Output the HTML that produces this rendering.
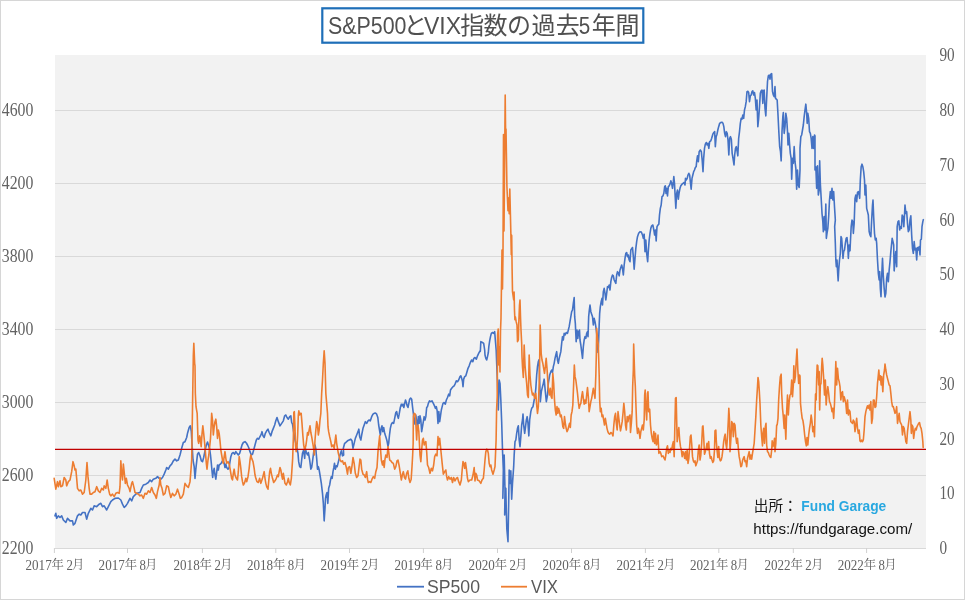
<!DOCTYPE html>
<html lang="ja"><head><meta charset="utf-8"><title>S&amp;P500とVIX指数の過去5年間</title>
<style>
html,body{margin:0;padding:0;background:#fff;}
body{width:965px;height:600px;overflow:hidden;}
svg{display:block;}
.ax{font-family:"Liberation Serif","Noto Serif CJK JP",serif;fill:#626262;}
.lg{font-family:"Liberation Sans","Noto Sans CJK JP",sans-serif;fill:#595959;}
</style></head><body>
<svg width="965" height="600" viewBox="0 0 965 600">
<rect x="0" y="0" width="965" height="600" fill="#fff"/>
<rect x="0.5" y="0.5" width="964" height="599" fill="none" stroke="#d6d6d6" stroke-width="1"/>
<rect x="55" y="55" width="871" height="493" fill="#f2f2f2"/>
<line x1="55" x2="926" y1="110.5" y2="110.5" stroke="#d9d9d9" stroke-width="1"/>
<line x1="55" x2="926" y1="183.5" y2="183.5" stroke="#d9d9d9" stroke-width="1"/>
<line x1="55" x2="926" y1="256.5" y2="256.5" stroke="#d9d9d9" stroke-width="1"/>
<line x1="55" x2="926" y1="329.5" y2="329.5" stroke="#d9d9d9" stroke-width="1"/>
<line x1="55" x2="926" y1="402.5" y2="402.5" stroke="#d9d9d9" stroke-width="1"/>
<line x1="55" x2="926" y1="475.5" y2="475.5" stroke="#d9d9d9" stroke-width="1"/>
<line x1="55" x2="926" y1="548.5" y2="548.5" stroke="#d9d9d9" stroke-width="1"/>
<line x1="54.4" x2="54.4" y1="548" y2="553" stroke="#d0d0d0" stroke-width="1"/>
<line x1="127.5" x2="127.5" y1="548" y2="553" stroke="#d0d0d0" stroke-width="1"/>
<line x1="202.4" x2="202.4" y1="548" y2="553" stroke="#d0d0d0" stroke-width="1"/>
<line x1="275.8" x2="275.8" y1="548" y2="553" stroke="#d0d0d0" stroke-width="1"/>
<line x1="349.5" x2="349.5" y1="548" y2="553" stroke="#d0d0d0" stroke-width="1"/>
<line x1="423.4" x2="423.4" y1="548" y2="553" stroke="#d0d0d0" stroke-width="1"/>
<line x1="497.5" x2="497.5" y1="548" y2="553" stroke="#d0d0d0" stroke-width="1"/>
<line x1="571.5" x2="571.5" y1="548" y2="553" stroke="#d0d0d0" stroke-width="1"/>
<line x1="645.4" x2="645.4" y1="548" y2="553" stroke="#d0d0d0" stroke-width="1"/>
<line x1="718.8" x2="718.8" y1="548" y2="553" stroke="#d0d0d0" stroke-width="1"/>
<line x1="793.3" x2="793.3" y1="548" y2="553" stroke="#d0d0d0" stroke-width="1"/>
<line x1="866.6" x2="866.6" y1="548" y2="553" stroke="#d0d0d0" stroke-width="1"/>
<rect x="322.3" y="8.3" width="321" height="34.4" fill="#fff" stroke="#1f6fb8" stroke-width="2.2"/>
<text y="34" class="lg" font-size="24" style="fill:#505050"><tspan x="328" textLength="78.5" lengthAdjust="spacingAndGlyphs">S&amp;P500</tspan><tspan x="403.5">と</tspan><tspan x="424" textLength="37" lengthAdjust="spacingAndGlyphs">VIX</tspan><tspan x="460.2">指</tspan><tspan x="483.6">数</tspan><tspan x="507">の</tspan><tspan x="531.5">過</tspan><tspan x="555.8">去</tspan><tspan x="578.8" textLength="11.5" lengthAdjust="spacingAndGlyphs">5</tspan><tspan x="591.8">年</tspan><tspan x="615.5">間</tspan></text>
<text x="1.8" y="116.2" class="ax" font-size="19.2" textLength="31.6" lengthAdjust="spacingAndGlyphs">4600</text>
<text x="1.8" y="189.2" class="ax" font-size="19.2" textLength="31.6" lengthAdjust="spacingAndGlyphs">4200</text>
<text x="1.8" y="262.2" class="ax" font-size="19.2" textLength="31.6" lengthAdjust="spacingAndGlyphs">3800</text>
<text x="1.8" y="335.2" class="ax" font-size="19.2" textLength="31.6" lengthAdjust="spacingAndGlyphs">3400</text>
<text x="1.8" y="408.2" class="ax" font-size="19.2" textLength="31.6" lengthAdjust="spacingAndGlyphs">3000</text>
<text x="1.8" y="481.2" class="ax" font-size="19.2" textLength="31.6" lengthAdjust="spacingAndGlyphs">2600</text>
<text x="1.8" y="554.2" class="ax" font-size="19.2" textLength="31.6" lengthAdjust="spacingAndGlyphs">2200</text>
<text x="939.4" y="61.2" class="ax" font-size="19.2" textLength="15.2" lengthAdjust="spacingAndGlyphs">90</text>
<text x="939.4" y="116.2" class="ax" font-size="19.2" textLength="15.2" lengthAdjust="spacingAndGlyphs">80</text>
<text x="939.4" y="171.2" class="ax" font-size="19.2" textLength="15.2" lengthAdjust="spacingAndGlyphs">70</text>
<text x="939.4" y="225.7" class="ax" font-size="19.2" textLength="15.2" lengthAdjust="spacingAndGlyphs">60</text>
<text x="939.4" y="280.2" class="ax" font-size="19.2" textLength="15.2" lengthAdjust="spacingAndGlyphs">50</text>
<text x="939.4" y="335.2" class="ax" font-size="19.2" textLength="15.2" lengthAdjust="spacingAndGlyphs">40</text>
<text x="939.4" y="390.2" class="ax" font-size="19.2" textLength="15.2" lengthAdjust="spacingAndGlyphs">30</text>
<text x="939.4" y="444.7" class="ax" font-size="19.2" textLength="15.2" lengthAdjust="spacingAndGlyphs">20</text>
<text x="939.4" y="499.2" class="ax" font-size="19.2" textLength="15.2" lengthAdjust="spacingAndGlyphs">10</text>
<text x="939.4" y="554.2" class="ax" font-size="19.2" textLength="7.6" lengthAdjust="spacingAndGlyphs">0</text>
<text y="570" class="ax"><tspan x="25.5" font-size="15" textLength="26.2" lengthAdjust="spacingAndGlyphs">2017</tspan><tspan x="51.6" y="569.2" font-size="12.4">年</tspan><tspan x="66.4" y="570" font-size="15" textLength="6.4" lengthAdjust="spacingAndGlyphs">2</tspan><tspan x="72.0" y="569.2" font-size="12.4">月</tspan></text>
<text y="570" class="ax"><tspan x="98.6" font-size="15" textLength="26.2" lengthAdjust="spacingAndGlyphs">2017</tspan><tspan x="124.7" y="569.2" font-size="12.4">年</tspan><tspan x="139.5" y="570" font-size="15" textLength="6.4" lengthAdjust="spacingAndGlyphs">8</tspan><tspan x="145.1" y="569.2" font-size="12.4">月</tspan></text>
<text y="570" class="ax"><tspan x="173.5" font-size="15" textLength="26.2" lengthAdjust="spacingAndGlyphs">2018</tspan><tspan x="199.6" y="569.2" font-size="12.4">年</tspan><tspan x="214.4" y="570" font-size="15" textLength="6.4" lengthAdjust="spacingAndGlyphs">2</tspan><tspan x="220.0" y="569.2" font-size="12.4">月</tspan></text>
<text y="570" class="ax"><tspan x="246.9" font-size="15" textLength="26.2" lengthAdjust="spacingAndGlyphs">2018</tspan><tspan x="273.0" y="569.2" font-size="12.4">年</tspan><tspan x="287.8" y="570" font-size="15" textLength="6.4" lengthAdjust="spacingAndGlyphs">8</tspan><tspan x="293.4" y="569.2" font-size="12.4">月</tspan></text>
<text y="570" class="ax"><tspan x="320.6" font-size="15" textLength="26.2" lengthAdjust="spacingAndGlyphs">2019</tspan><tspan x="346.7" y="569.2" font-size="12.4">年</tspan><tspan x="361.5" y="570" font-size="15" textLength="6.4" lengthAdjust="spacingAndGlyphs">2</tspan><tspan x="367.1" y="569.2" font-size="12.4">月</tspan></text>
<text y="570" class="ax"><tspan x="394.5" font-size="15" textLength="26.2" lengthAdjust="spacingAndGlyphs">2019</tspan><tspan x="420.6" y="569.2" font-size="12.4">年</tspan><tspan x="435.4" y="570" font-size="15" textLength="6.4" lengthAdjust="spacingAndGlyphs">8</tspan><tspan x="441.0" y="569.2" font-size="12.4">月</tspan></text>
<text y="570" class="ax"><tspan x="468.6" font-size="15" textLength="26.2" lengthAdjust="spacingAndGlyphs">2020</tspan><tspan x="494.7" y="569.2" font-size="12.4">年</tspan><tspan x="509.5" y="570" font-size="15" textLength="6.4" lengthAdjust="spacingAndGlyphs">2</tspan><tspan x="515.1" y="569.2" font-size="12.4">月</tspan></text>
<text y="570" class="ax"><tspan x="542.6" font-size="15" textLength="26.2" lengthAdjust="spacingAndGlyphs">2020</tspan><tspan x="568.7" y="569.2" font-size="12.4">年</tspan><tspan x="583.5" y="570" font-size="15" textLength="6.4" lengthAdjust="spacingAndGlyphs">8</tspan><tspan x="589.1" y="569.2" font-size="12.4">月</tspan></text>
<text y="570" class="ax"><tspan x="616.5" font-size="15" textLength="26.2" lengthAdjust="spacingAndGlyphs">2021</tspan><tspan x="642.6" y="569.2" font-size="12.4">年</tspan><tspan x="657.4" y="570" font-size="15" textLength="6.4" lengthAdjust="spacingAndGlyphs">2</tspan><tspan x="663.0" y="569.2" font-size="12.4">月</tspan></text>
<text y="570" class="ax"><tspan x="689.9" font-size="15" textLength="26.2" lengthAdjust="spacingAndGlyphs">2021</tspan><tspan x="716.0" y="569.2" font-size="12.4">年</tspan><tspan x="730.8" y="570" font-size="15" textLength="6.4" lengthAdjust="spacingAndGlyphs">8</tspan><tspan x="736.4" y="569.2" font-size="12.4">月</tspan></text>
<text y="570" class="ax"><tspan x="764.4" font-size="15" textLength="26.2" lengthAdjust="spacingAndGlyphs">2022</tspan><tspan x="790.5" y="569.2" font-size="12.4">年</tspan><tspan x="805.3" y="570" font-size="15" textLength="6.4" lengthAdjust="spacingAndGlyphs">2</tspan><tspan x="810.9" y="569.2" font-size="12.4">月</tspan></text>
<text y="570" class="ax"><tspan x="837.7" font-size="15" textLength="26.2" lengthAdjust="spacingAndGlyphs">2022</tspan><tspan x="863.8" y="569.2" font-size="12.4">年</tspan><tspan x="878.6" y="570" font-size="15" textLength="6.4" lengthAdjust="spacingAndGlyphs">8</tspan><tspan x="884.2" y="569.2" font-size="12.4">月</tspan></text>
<polyline fill="none" stroke="#4472c4" stroke-width="1.6" stroke-linejoin="round" stroke-linecap="round" points="55,515.83 55.83,513.33 56.67,518.33 58.33,515.83 60,517.5 61.67,515.83 63.33,520 65.83,522.5 67.5,518.33 70,520.83 72.5,520.83 73.33,525 75,523.33 77.5,515.83 79.17,514.17 80.83,515 82.5,512.5 85,512.5 86.67,519.17 88.33,513.33 90.83,508.33 92.5,510 94.17,505.83 96.67,506.67 99.17,504.17 100.83,503.33 102.5,506.67 104.17,505.83 106.67,510 108.33,506.67 110.83,501.67 112.5,500 115,498.33 118.33,498 120.83,500 122.5,504.17 124.17,507.5 125.83,505.83 127.5,503.33 130,498.33 131.67,500.83 133.33,496.67 135,495 136.67,493.33 140,492.5 141.67,488.33 143.33,485 145.83,484.17 148.33,482.5 150,480 151.67,481.67 153.33,479.17 155.83,478.33 157.5,476.67 159.17,478.33 160.83,479.17 162.5,477.5 164.17,474.17 165.83,470 166.67,467.5 168.33,469.17 170,465.83 171.67,464.17 173.33,460.83 175,459.17 176.67,460.83 178.33,460 180,455 181.67,448.33 183.33,442.5 185,441.67 186.67,437.5 187.5,433.33 189.17,427.5 190.33,425.83 191.33,431.67 192,443.33 193,460 194.17,466.67 195,478.33 195.83,469.17 196.67,461.67 197.5,454.17 198.67,452.5 200,455.83 201.33,460.83 202.5,461.67 203.67,457.5 205,450.83 206.33,445 207.5,442 208.67,445.83 209.67,449.17 210.5,455 211.33,463.33 212,470.83 212.67,477.5 213.33,471.67 214.17,468.33 215,475 215.83,479.17 216.67,472.5 217.5,465 218.33,470 219.17,465 220.33,464.17 221.67,462.5 223,460 224.17,463.33 225,467.5 225.83,464.17 226.67,467.5 228,469.17 229.17,467.5 230,461.67 230.83,456.67 232,453.33 233.33,452.5 234.67,454.17 235.83,451.67 237,453.33 238.33,455 239.67,453.33 240.83,449.17 242,445 243.33,442.5 245,441.67 246.33,443 247.5,445 248.67,447.5 250,451.67 251.33,455 252.5,454.17 253.67,450 255,445 256.33,440 257.5,438.33 258.67,439.17 260,436.67 261.33,434.17 262,431.67 263,435.83 264.17,437.5 265.33,433.33 266.67,430.83 268,429.17 269.17,432.5 270.83,435.83 272,431.67 273.33,428.33 274.67,425 275.83,420.83 277,417.5 278.33,421.67 280,425.83 281.67,423.33 283.33,420.83 284.67,415.83 285.83,415 287,417.5 288.33,419.17 289.67,416.67 290.83,415.83 291.67,422.5 292.5,424.17 293.33,430 295,440 296.67,446.67 298,453.33 298.67,461.67 299.67,466.67 300.83,467.5 301.67,460 302.5,453.33 303.67,450 304.67,458.33 305.33,448.33 306.33,452.5 307.5,455 308.33,452.5 309.67,460 310.83,469.17 311.67,467.5 312.5,461.67 313.33,455 314.17,448.33 315,445 315.83,449.17 316.67,458.33 317.5,469.17 318.33,466.67 319.17,470 320,475 321.33,483.33 322.5,493.33 323.33,503.33 324.17,520.83 325,508.33 325.5,498.33 326.17,495 327,492.5 327.83,503.33 328.67,488.33 329.67,485 330.5,480 331.33,476.67 332.17,478.33 333,471.67 333.83,467.5 334.5,463.33 335.33,469.17 336.33,465.83 337.17,466.67 338,463.33 338.83,460 340,455 341.33,450.83 342.5,455.83 343.67,455 343.33,448.33 344.67,443.33 345.83,442.5 347.5,440.83 349.17,440 350.83,439.17 352,440.83 353,448.33 354.17,443.33 355.33,438.33 356.67,435 358,431.67 358.83,429.17 359.67,436.67 360.83,440 361.67,435 363,428.33 364.17,425 365.33,421.67 366.67,423.33 368,420.83 369.17,420 370.33,420.83 371.67,416.67 373,414.17 374.17,413.33 375.5,413 376.67,414.17 377.83,417.5 378.67,425 379.5,430 380.33,435 381.17,428.33 382,425.83 382.83,431.67 383.67,427.5 384.67,433.33 385.83,436.67 387,440.83 388,446.33 388.67,443.33 389.5,435 390.33,428.33 391.33,424.17 392.5,422.5 393.67,423.33 394.67,418.33 395.83,412.5 396.67,411.67 397.5,415.83 398.33,418.33 399.17,414.17 400.33,407.5 401.33,404.17 402.17,405.83 403,404.17 403.83,407.5 404.67,403.33 405.5,400 406.33,402.5 407.17,405.83 408,407.5 408.83,403.33 409.67,399.17 410.67,398 411.67,399.17 412.5,406.67 413.33,413.33 414.17,420 415,424.17 415.83,415 416.67,421.67 417.5,428.33 418.33,416.67 419.17,423.33 420,415.83 420.83,420 421.67,431.67 422.5,426.67 423.33,421.67 424.17,416.67 425,420 425.83,416.67 426.67,407.5 427.5,406.67 428.33,403.33 429.5,400.83 430.83,401.67 432,400.83 433.33,403.33 434.5,405.83 435.5,408.33 436.33,406.67 437.17,410.83 438,423.33 438.83,411.67 439.67,421.67 440.5,415.83 441.33,410 442.17,406.67 443,403.33 444.17,402.5 445.33,404.17 446.33,400 447.5,397.5 448.67,394.17 449.67,395.83 450.5,390 451.67,388.33 453,386.67 454.17,385.83 455.33,383.33 456.33,380.83 457.5,381.67 458.67,380 460,376.67 460.83,375.83 461.67,378.33 462.5,381.67 463,386.67 463.67,379.17 464.67,376.67 465.83,375.83 467,371.67 468,368.33 469.17,365.83 470.33,362.5 471.67,360 472.83,361.67 473.83,358.33 475,357.5 476.33,359.17 477.5,355.83 478.67,353.33 480,350.83 480.33,351.33 480.83,341.67 482.5,342.5 483.67,343.33 484.67,350 485,355 485.83,358.33 486.67,360 487.5,356.67 488.33,352.5 488.83,346.67 489.67,340.83 490.5,336.67 491.33,333.33 492.5,332.5 493.67,333.33 494.67,331.67 495.33,340 496.17,350 496.67,363.33 497.5,383.33 498.33,410 499.17,380 500,383.33 500.83,400 501.67,421.67 502.5,450 503.33,470 502.83,498.33 504.17,455 505,490 504.67,515 505.83,488.33 506.33,511.67 506.83,528.83 508,541.67 508.67,503.33 509.17,470 510,483.33 510.83,470.83 511.67,499.17 512.5,483.33 513.67,466.67 514.17,455 515,441.67 515.83,440 516.67,433.33 517.5,428.33 518.33,425.83 519.17,440 520,446.67 520.83,436.67 521.67,425 522.5,420 523,414.17 523.67,425 524.67,433.33 525.33,428.33 526.33,420 527.17,416.67 528,423.33 528.83,435.83 529.67,420 530.83,411.67 531.67,408.33 533,406.67 534.17,400 535,396.67 535.83,388.33 536.67,375 537.5,366.67 538.33,361.67 539.17,359.67 539.67,380 540.33,401.67 541.33,391.67 542.5,386.67 543.33,383.33 544.17,379.17 545.33,391.67 546.33,401.67 547.5,395 548.33,383.33 549.67,375 550.83,371.67 551.67,370 552.5,372.5 553.33,366.67 554.17,363.33 555,358.33 555.83,355 556.67,351.67 557.5,360 558.33,363.33 559.17,358.33 560,355 560.83,351.67 561.67,343.33 562.5,336.67 563.33,340 564.17,333.33 565,335 566.33,332.5 567.5,333.33 568.33,330 569.17,326.67 570,321.67 570.83,316.67 571.67,311.67 572.5,310 573.33,303.33 574.17,297.5 574.67,316.67 575.33,323.33 576.17,341.67 577,330 577.83,338.33 578.67,331.67 579.5,330 580,340 580.83,345 581.67,351.67 582.5,358.33 583.33,346.67 584.17,340 585,336.67 585.83,338.33 586.67,333.33 587.5,331.67 588,336.67 588.67,316.67 589.33,310 590,305 590.83,311.67 591.67,314.17 592.5,316.67 593.33,325 594.17,318.33 595,321.67 595.83,326.67 596.67,333.33 597.5,343.33 598,352.5 598.67,340 599.17,325 599.67,313.33 600.33,306.67 601.17,301.67 602,298.33 602.5,305 603.33,291.67 604.17,288.33 605,293.33 605.83,300 606.67,293.33 607.5,286.67 608.33,287.5 609.17,285 610,290 610.83,281.67 611.67,277.5 612.5,275 613.33,275.83 614.17,280 615,281.67 615.83,283.33 616.67,275 617.5,271.67 618.33,273.33 619.17,275.83 620,270 620.83,267.5 621.67,265 622.5,268.33 623.33,275 624.17,265 625,258.33 625.83,253.33 626.67,252.5 627.5,256.67 628.33,255 629.17,260 630,261.67 630.83,250 632.5,247.5 633.33,256.67 634.17,269.17 635,258.33 635.83,248.33 636.67,241.67 637.5,236.67 638.67,233.33 640,231.67 641.33,232 642.5,235 643.33,238.33 644.17,234.17 645,251.67 645.83,240 646.67,253.33 647.67,261.67 648.33,250.83 649.17,240 650,233.33 650.83,228.33 651.67,225.83 652.83,225 653.83,230 654.67,235 655.5,230 656.17,240.83 657,226.67 658,225 658.83,224.17 659.5,215 660.33,208.33 661.17,205 662,196.67 663,195.83 663.83,193.33 664.67,186.67 665.33,185.83 666,193.33 666.67,188.33 667.5,195.83 668.33,186.67 669.17,185.83 670,184.17 670.83,180.83 671.67,183.33 672.5,188.33 673.33,181.67 673.83,176.67 674.5,183.33 675,193.33 675.83,208.33 676.67,193.33 677.5,190 678.33,199.17 679.17,192.5 680,188.33 680.83,185.83 682,184.17 683,183.33 684.17,182.5 685,185 685.5,178.33 686.33,180 687.17,178.33 688,175 688.83,173.33 689.67,175 690.33,181.67 691.17,189.17 692,178.33 692.83,175 693.67,171.67 694.5,170 695.33,167.5 696.17,166.67 696.67,161.67 697.5,155.83 698.33,161.67 699.17,151.67 700.33,150 701.33,151.67 702.17,160 703,171.67 703.67,158.33 704.5,148.33 705.33,144.17 706.33,142.5 707.17,145 708,143.33 708.83,148.33 709.67,141.67 710.83,140.83 711.67,138.33 712.83,134.17 713.83,132.5 714.67,131.67 715.33,146.67 716.17,136.67 717,134.17 717.83,130 718.67,126.67 719.67,123.33 720.83,122.5 722,122.17 723,123.33 723.83,126.67 724.67,133.33 725.5,136.67 726.33,131.67 727.17,133.33 728,140 728.83,155 729.67,138.33 730.5,136.67 731.33,139.17 732.17,153.33 733,158.33 734,165 734.67,155 735.5,148.33 736.33,146.67 737.17,151.67 737.83,155.83 738.67,138.33 739.5,131.67 740.33,123.33 741.17,118.33 742,119.17 742.83,115 743.67,118.33 744.5,110 745.33,106.67 746.17,101.67 747,91.67 747.83,91.33 748.67,92.5 749.5,101.67 750.33,95.83 751.17,95 752,91.67 752.83,90.83 753.67,95 754.5,92.5 755.33,98.33 756.17,110 757,100 757.83,126.67 758.67,118.33 759.5,106.67 760.33,93.33 761.17,90.83 762,90 762.83,103.33 763.33,90.83 764.17,90 765,108.33 765.83,115.83 766.67,98.33 767.5,81.67 768.33,75.83 769.17,75 770,79.17 770.83,74.17 771.67,73.67 772.5,91.67 773.33,95 774.17,96.67 775,86.67 775.5,98.33 776.33,99.17 777.17,100 778,115 778.83,131.67 779.67,146.67 780.5,151.67 781.17,160.83 782,131.67 782.83,116.67 783.33,112.5 784.17,133.33 785,126.67 785.83,113.33 786.67,118.33 787.5,131.67 788,145 788.83,133.33 789.5,143.33 790.33,153.33 791.17,158.33 791.67,179.17 792.5,158.33 793.33,163.33 794.17,146.67 795,161.67 795.83,168.33 796.67,189.17 797.5,170 798.33,185 799.17,187.5 800,170 800,148.33 800.83,136.67 801.67,135 802.5,130 803.33,125 804.17,116.67 805,110 805.83,104.17 806.67,113.33 807.17,123.33 807.83,113.33 808.67,118.33 809.5,131.67 810.33,133.33 811.17,138.33 812,148.33 812.83,136.67 813.67,148.33 814.5,135 815,135.83 815,170 815.83,166.67 816.67,188.33 817.5,165.83 818.33,195 819.17,190 819.67,160.83 820.33,183.33 821.17,198.33 822,213.33 822.83,221.67 823.33,231.67 824.17,216.67 825,230 825.83,204.17 826.33,238.33 827,233.33 827.83,228.33 828.67,216.67 829.5,200 830.33,191.67 831.17,198.33 832,188.33 832.83,200 833.67,191.67 834.5,206.67 835.33,220 834.67,226.67 835.33,243.33 835.83,260 836.33,266.67 837,260 837.67,273.33 838.17,280.83 838.83,268.33 839.5,260 840.33,253.33 841,236.67 841.67,238.33 842.5,250 843,258.33 843.67,251.67 844.5,250 845.33,243.33 846.17,238.33 847,237.5 847.83,246.67 848.33,258.33 849.17,245 850,250.83 850.5,240 851.17,226.67 852,220 852.83,221.67 853.33,233.33 854.17,223.33 855,198.33 855.83,195 856.67,201.67 857.5,192.5 858.33,191.67 859.17,195 859.67,198.33 860.33,180 861.17,166.67 862,164.17 862.83,166.67 863.67,171.67 864.5,180 865,195 865.83,185 866.67,208.33 867.5,211.67 868.33,215 869.17,231.67 870,235 870.83,236.67 871.67,220 872.5,205 873,200 873.67,216.67 874.5,233.33 875.33,240 876.17,238.33 876.67,243.33 877.5,260 878.33,273.33 879.17,280 879.67,271.67 880.33,288.33 881,296.67 881.67,276.67 882.5,258.33 883.33,276.67 884.17,288.33 885,297 885.83,293.33 886.67,278.33 887.5,273.33 888.33,281.67 889.17,270 890,261.67 890.83,251.67 891.67,243.33 892.17,238.33 893,241.67 893.67,245 894.17,270.83 895,260 895.83,251.67 896.67,266.67 897.17,226.67 898,221.67 898.83,220.83 899.67,230 900.5,226.67 901.33,228.33 902.17,215 903,216.67 903.83,226.67 904.5,215 905,205 905.83,213.33 906.67,211.67 907.5,223.33 908.33,231.67 909.17,230 910,220 910.83,215.83 911.67,235 912.5,248.33 913.33,253.33 914.17,241.67 915,250 915.83,248.33 916.67,260 917.5,247.5 918.33,250 919.17,246.67 920,255 920.5,240 921.33,239.17 922,226.67 922.83,221.67 923.33,219.67"/>
<polyline fill="none" stroke="#ed7d31" stroke-width="1.6" stroke-linejoin="round" stroke-linecap="round" points="54.17,478.33 55.83,489.17 57.5,481.67 58.33,486.67 60,480.83 60.83,486.67 62.5,485.83 64.17,477.5 65.83,480 66.67,485.83 68.33,481.67 70,480 71.67,471.67 73,461.67 74.17,465.83 75,470 75.83,469.17 76.67,478.33 77.5,488.33 79.17,490.83 80.83,490 82.5,494.17 84.17,492.5 85.83,480 87,462.5 88,476.67 89.17,488.33 90,494.17 91.67,494.17 93.33,492.5 95,491.67 96.67,486.67 98.33,490.83 100,492.5 101.67,488.33 103.33,490 104.17,485.83 105.83,488.33 107.17,480 108.33,488.33 109.67,494.17 110.83,495.83 112.5,494.17 114.17,496.67 115.83,493.33 117.5,492.5 119.17,493.33 120,486.67 120.83,460.83 121.67,473.33 122.5,480 123.33,464.17 124.5,475 125.33,483.33 126.33,478.33 127.5,485 129.17,488.33 130,491.67 131.67,483.33 132.5,481.67 134.17,488.33 135,492.5 136.67,493.33 138.33,494.17 140,495.83 141.67,495 143.33,498.33 145,493.33 146.67,494.17 148.33,490.83 150,492.5 151.67,487.5 153.33,492.5 155,495 156.33,498.33 157.5,491.67 159.17,485 160,477.5 160.83,485 162,488.33 163.33,495 165,493.33 166.67,485.83 168.33,486.67 169.67,493.33 170.83,497.5 172.5,493.33 174.17,495.83 175.83,494.17 177.5,489.17 179.17,494.17 180.33,498.33 181.67,497.5 183.33,494.17 185,483.33 186.67,485.83 188.33,487.5 190,481.67 190.83,471.67 191.67,460 192.17,430 193.33,355 193.83,343.33 194.67,363.33 195,365.83 195.33,393.33 196,406.67 197.17,413.33 197.67,430 198,440 198.67,443.33 199.67,435.83 200.33,438.33 201.17,446.67 202,434.17 202.83,425.83 203.67,433.33 204.67,443.33 205.5,453.33 206.33,463.33 207,469.17 208,460 208.83,455 209.67,446.67 210.5,438.33 211.17,425 211.67,413.33 212.5,420 213.33,435 214.17,426.67 215,421.67 215.83,419.17 216.67,426.67 217.5,438.33 218.33,430 219.17,433.33 220,440.83 220.83,450 221.67,455 222.5,460 223.33,463.33 224.17,456.67 225,451.67 225.83,458.33 226.67,463.33 228,461.67 229.17,464.17 230,468.33 230.83,473.33 231.67,478.33 232.5,480 233.33,473.33 234.17,469.17 235,475 236.33,478.33 237.5,480 238.33,471.67 239.17,456.67 240,461.67 240.83,468.33 241.67,476.67 242.5,481.67 243.33,485 244.67,482.5 245.83,478.33 246.67,481.67 248,476.67 249.17,468.33 250,460 250.83,455 251.67,458.33 253,461.67 254.17,468.33 255,475 255.83,478.33 257,481.67 258.33,482.5 259.67,478.33 260.83,483.33 261.67,480.83 262.5,478.33 263.33,475 264.17,471.67 265,478.33 265.83,483.33 266.67,486.67 268,489.17 268.67,481.67 269.67,471.67 270.5,468.33 271.33,473.33 272.5,478.33 273.67,482.5 275,480.83 276.33,478.33 277.5,475 278.33,476.67 279.17,471.67 280,467.5 280.83,470 281.67,475 282.5,479.17 283.33,473.33 284.17,478.33 285,483.33 286.33,485 287.5,481.67 288.33,478.33 289.17,482.5 290.33,485 291.33,478.33 292,468.33 292.67,458.33 293.33,438.33 293.83,412.5 294.33,411.67 295,426.67 295.5,445 296.17,451.67 297,446.67 297.67,435 298.33,415 298.83,410.83 299.67,415 300.33,413.33 301.17,413.33 302,423.33 302.83,435 303.67,445 304.67,450 305.83,445.83 306.67,440 307.5,432.5 308.33,435 309.17,430 310,425.83 310.83,432.5 311.67,436.67 312.5,441.67 313.33,446.67 314.33,455 315,440 315.83,430 316.67,421.67 317.5,425 318.33,435 319.17,430 320,420 320.83,413.33 321.67,393.33 322.5,380 323.33,363.33 324.17,350.83 325,363.33 325.83,393.33 326.67,403.33 327.5,413.33 328,426.67 328.67,431.67 329.67,436.67 330.83,441.67 331.67,446.67 333,445 334.17,448.33 335,441.67 335.83,435 336.67,443.33 337.5,448.33 338.33,453.33 339.17,456.67 340,460 341.33,461.67 342.5,460.83 343.67,464.17 345,462.5 346.33,467.5 347.5,474.17 348.33,467.5 349.67,466.67 350.83,473.33 352,465.83 353,457.5 354.17,463.33 355.33,473.33 356.67,477.5 358,475.83 359.17,465.83 360,459.17 360.83,460 361.67,469.17 363,474.17 364.17,475 365.33,477.5 366.67,471.67 367.5,479.17 368.33,482.5 369.67,481.67 370.83,482.5 372,479.17 373.33,476.67 374.67,478.33 375.83,471.67 377,467.5 378,451.67 378.83,443.33 379.67,435.83 380.33,446.67 381.33,460 382.5,465 383.33,460.83 384.17,467.5 385,459.17 385.83,455 387,457.5 388,446.67 388.67,451.67 389.67,460 390.83,460.83 392,462.5 393.33,463.33 394.67,469.17 395.83,466.67 397,460.83 398,460 399.17,465.83 400.33,473.33 401.33,480 402.5,474.17 403.33,471.67 404.5,477.5 405.5,479.17 406.67,473.33 407.83,470.83 408.83,478.33 410,482.5 411.17,479.17 412,466.67 412.67,455 413.17,443.33 413.33,416.67 414.17,413.33 415.33,414.17 416.17,430 416.67,440 417.17,430 418,425 418.83,431.67 419.67,448.33 420,455 420.83,461.67 421.67,450 422.5,440 423.33,438.33 424.17,445 425,442.5 425.83,441.67 426.67,451.67 427.5,465 428.67,467.5 430,473.33 431.33,468.33 432.5,470.83 433.67,465 434.67,456.67 435.83,454.17 437,455.83 438,436.67 438.83,445 439.67,438.33 440.5,446.67 441.33,455 442.17,463.33 443.33,474.17 444.67,471.67 445.83,470 446.67,476.67 447.5,480 448.67,476.67 450,479.17 451.33,477.5 452.5,482.5 453.67,477.5 455,480.83 456.33,478.33 457.5,477.5 458.67,481.67 460,485 461.33,480 462.17,470 463,461.67 463.83,463.33 464.67,468.33 465.5,462.5 466.33,468.33 467.5,478.33 468.33,481.67 470,480 471.67,480 473,475 474.17,467.5 475,480.83 475.83,473.33 476.67,475 477.5,480 479.17,480.83 480.83,483.33 482,480 483.33,478.33 484.17,470 485,460 485.83,451.67 486.67,449.17 487.5,450 488.33,453.33 489.17,463.33 490,466.67 490.83,465 491.67,470 493,474.17 494.17,470 495,466.67 496.1,440 496.6,410 497.2,397 497.6,335 498.2,329 498.9,365 499.4,347 500,372 500.5,331 501,318 502,250 502.5,289 503,253 503.5,134.5 504,231 505.2,95 505.6,132 506,129 506.4,153.6 506.9,186 508,210.6 508.4,210 508.8,197.7 509.2,213.8 509.8,189 510.9,235 511.3,254.7 511.7,235.4 512.1,269 512.5,291.6 513.7,300 514.1,292 514.5,310.5 514.9,319.7 515.33,316.67 516.17,321.67 517,325 517.5,341.67 518.33,340 518.83,321.67 519.5,305 520,300 520.5,316.67 521,330 521.67,343.33 522,356.67 522.5,366.67 523.33,377.5 524.17,345 525,365 525.83,375 526.67,383.33 527.5,395 528.33,397.5 529.17,355 530,375 530.83,385 531.67,390.83 532.5,395 533.33,393.33 534.67,398.33 535.83,393.33 536.67,405 537.5,413.33 538.33,406.67 539.17,383.33 539.67,360 540.17,325 540.67,336.67 541.17,353.33 542,360 542.83,363.33 543.67,368.33 544.5,373.33 545.33,366.67 546.17,358.33 547,368.33 547.83,381.67 548.67,391.67 549.5,395 550.33,388.33 551.17,396.67 552,398.33 552.83,373.33 553.67,383.33 554.5,400 555.33,410 556.17,415 557,406.67 557.83,413.33 558.67,408.33 559.5,411.67 560.33,416.67 561.17,415 562,420 562.83,426.67 563.67,428.33 564.5,416.67 565.33,423.33 566.17,428.33 567,431.67 567.83,430 568.67,426.67 569.5,423.33 570.33,427.5 571.17,415 572,411.67 572.83,405 573.67,383.33 574.33,365 575,376.67 575.83,380 576.67,386.67 577.5,393.33 578.33,401.67 579.17,408.33 580,405 580.83,403.33 581.67,396.67 582.5,391.67 583.33,398.33 584.17,404.17 585,400 585.83,403.33 586.67,395 587.5,387.5 588.33,396.67 589.17,411.67 590,406.67 590.83,401.67 591.67,398.33 592.5,393.33 593.33,388.33 594.17,393.33 595,398.33 595.83,375 596.33,355 596.67,328.33 597.5,338.33 598.33,345 599.17,375 599.67,400 600.33,411.67 601.17,408.33 602,416.67 602.83,415 603.67,420 604.5,425 605.33,418.33 606.17,423.33 607,428.33 607.83,431.67 608.67,433.33 609.67,434.17 610.83,432.5 612,433.33 613,435.83 613.83,425 614.67,416.67 615.5,413.33 616.33,423.33 617.17,430 618,411.67 618.83,418.33 619.67,425 620.5,430.83 621.33,426.67 622.17,421.67 623,413.33 623.83,403.33 624.67,411.67 625.5,425 626.33,430 627.17,416.67 628,421.67 628.83,416.67 630,415 630.5,432.5 631.33,423.33 632.17,411.67 632.67,386.67 633.33,370 633.67,344.17 634.17,360 634.67,375 635.33,386.67 636,406.67 636.67,425 637.5,433.33 638.33,428.33 639.17,431.67 640,438.33 640.83,431.67 641.67,428.33 642.5,425 643.33,430 644.17,420 644.67,395 645.17,390 645.83,406.67 646.67,420 647.5,393.33 648,391.67 648.67,411.67 649.67,409.17 650.5,425 651.33,433.33 652.17,438.33 653,441.67 653.83,431.67 654.67,443.33 655.5,433.33 656.33,445 657.17,443.33 658,435 658.83,453.33 660,451.67 660.83,453.33 661.67,456.67 663,455.83 664.17,458.33 665,460 665.83,455 666.67,448.33 667.5,445.83 668.33,453.33 669.17,450.83 670,452.5 670.83,448.33 671.67,450 672.5,445 673.33,441.67 674.17,456.67 675,420 675.5,398.33 676.17,397.5 676.67,420 677.17,441.67 678,433.33 678.83,427.5 679.67,440 680.5,446.67 681.33,450 682.17,456.67 683,451.67 683.83,453.33 684.67,458.33 685.5,451.67 686.33,460 687.17,450 688,463.33 688.83,458.33 689.67,446.67 690.33,436.67 691,435 691.67,443.33 692.5,456.67 693.33,460.83 694.17,462.5 695,460.83 695.83,465.83 696.67,463.33 697.5,460.83 698.33,450 699.17,445 700,460 700.83,455 701.67,443.33 702.5,426.67 703,425.83 703.67,436.67 704.5,454.17 705.33,451.67 706.17,448.33 707,443.33 707.83,450 708.67,441.67 709.5,453.33 710.33,458.33 711.17,456.67 712,460 712.83,462.5 713.67,460.83 714.5,450 715,430.83 715.83,430 716.33,441.67 717,450 717.83,457.5 718.67,446.67 719.5,458.33 720.33,460.83 721.17,460 722,456.67 722.83,450 723.67,441.67 724.5,436.67 725.17,434.17 725.83,443.33 726.67,448.33 727.5,436.67 728.33,420 728.83,408.33 729.5,420 730,451.67 730.83,440 731.67,421.67 732.5,423.33 733.33,436.67 734.17,423.33 735,425 735.83,436.67 736.67,443.33 737.5,438.33 738.33,448.33 739.17,456.67 740,460.83 740.83,466.67 741.67,465.83 742.5,460.83 743.33,458.33 744.17,456.67 745,461.67 745.83,460.83 746.67,466.67 747.5,458.33 748.33,455 749.17,451.67 750,459.17 750.83,455 751.67,459.17 752.5,453.33 753.33,448.33 754.17,443.33 755,430 755.83,416.67 756.67,400 757.5,386.67 758,377.5 758.67,381.67 759.33,391.67 760,403.33 760.83,425 761.67,436.67 762.5,445.83 763,433.33 763.67,428.33 764.5,443.33 765.33,426.67 766,423.33 766.67,445 767.5,451.67 768.33,452.5 769.17,455 770,456.67 770.83,457.5 771.67,450 772.17,440.83 773,446.67 773.83,443.33 774.5,438.33 775,451.67 775.83,443.33 776.67,425 777.17,425 778,418.33 778.67,400 779.5,386.67 780.33,376.67 781.17,374.17 781.67,393.33 782.5,408.33 783.33,416.67 784.17,428.33 784.67,415 785.33,428.33 785.83,439.17 786.67,411.67 787.5,395 788.33,415 789.17,401.67 790,395 790.83,394.17 791.67,380 792.5,396.67 793.33,385 793.83,365.83 794.5,382.5 795.33,376.67 796.17,361.67 797,349.17 797.83,370 798.67,383.33 799.5,375 800,375.83 800.5,403.33 801.33,411.67 802.17,418.33 803,420.83 803.83,426.67 804.67,435 805.5,441.67 806.33,445.83 807,437.5 807.83,445 808.67,435 809.5,428.33 810.33,423.33 811.17,415 812,421.67 812.83,431.67 813.67,426.67 814.5,436.67 815,415 815.5,394.17 816.17,400 816.67,378.33 817.17,365 817.83,365.83 818.67,385 819.17,371.67 819.67,410 820.33,385 821,383.33 821.67,366.67 822.17,358.33 822.83,365 823.67,378.33 824.5,395 825.33,380 826.17,405 827,393.33 827.83,386.67 828.67,393.33 829.5,401.67 830.33,403.33 831.17,406.67 832,411.67 832.83,408.33 833.67,418.33 834.5,403.33 835.33,378.33 835.83,361.67 836.67,385 837.5,368.33 838.33,378.33 839.17,381.67 840,386.67 840.83,400 841.67,393.33 842.5,391.67 843.33,401.67 844.17,396.67 845,400 845.83,403.33 846.67,413.33 847.5,400 848.33,415 849.17,410 850,411.67 850.83,421.67 851.67,422.5 852.5,423.33 853.33,420 854.17,421.67 855,431.67 855.83,425 856.67,418.33 857.5,428.33 858.33,433.33 859.17,430 860,440.83 860.83,441.67 861.67,440 862.5,441.67 863.33,440 864.17,430 865,416.67 865.83,411.67 866.67,408.33 867.5,405.83 868.33,408.33 869.17,405 870,410 870.83,401.67 871.67,423.33 872.5,418.33 873.33,400 874.17,400 875,407.5 875.83,406.67 876.67,396.67 877.5,383.33 878.33,375 878.83,370 879.5,380 880.33,375.83 881.17,385 881.67,376.67 882.17,381.67 882.83,391.67 883.67,375 884.5,370 885,364.17 885.83,370 886.67,375 887.5,378.33 888.33,381.67 889.17,385 890,385.83 890.83,393.33 891.67,401.67 892.5,406.67 893.33,406.67 894.17,410 895,413.33 895.83,411.67 896.67,406.67 897.5,423.33 898.33,418.33 899.17,413.33 900,421.67 900.83,423.33 901.67,425 902.5,435 903.33,426.67 904.17,428.33 905,435 905.83,441.67 906.67,443.33 907.5,431.67 908.33,425 909.17,418.33 910,411.67 910.83,420 911.33,433.33 912,425 912.83,426.67 913.67,438.33 914.5,431.67 915.33,428.33 916.17,430 917,426.67 917.83,425 918.67,423.33 919.5,422.5 920.33,426.67 921.17,428.33 922,433.33 922.83,441.67 923.17,447.5"/>
<line x1="55" x2="926" y1="449.3" y2="449.3" stroke="#c00000" stroke-width="1.3"/>
<text x="753.8" y="511" class="lg" font-size="14.67" style="fill:#1a1a1a">出所：</text>
<text x="801.3" y="511" class="lg" font-size="14" font-weight="bold" style="fill:#29a8e0" textLength="85" lengthAdjust="spacingAndGlyphs">Fund Garage</text>
<text x="753.3" y="533.5" class="lg" font-size="15" style="fill:#111" textLength="159" lengthAdjust="spacingAndGlyphs">https://fundgarage.com/</text>
<line x1="397" x2="424" y1="586.7" y2="586.7" stroke="#4472c4" stroke-width="1.8"/>
<text x="427" y="592.5" class="lg" font-size="18" textLength="53" lengthAdjust="spacingAndGlyphs">SP500</text>
<line x1="501" x2="527" y1="586.7" y2="586.7" stroke="#ed7d31" stroke-width="1.8"/>
<text x="531" y="592.5" class="lg" font-size="18" textLength="27" lengthAdjust="spacingAndGlyphs">VIX</text>
</svg>
</body></html>
